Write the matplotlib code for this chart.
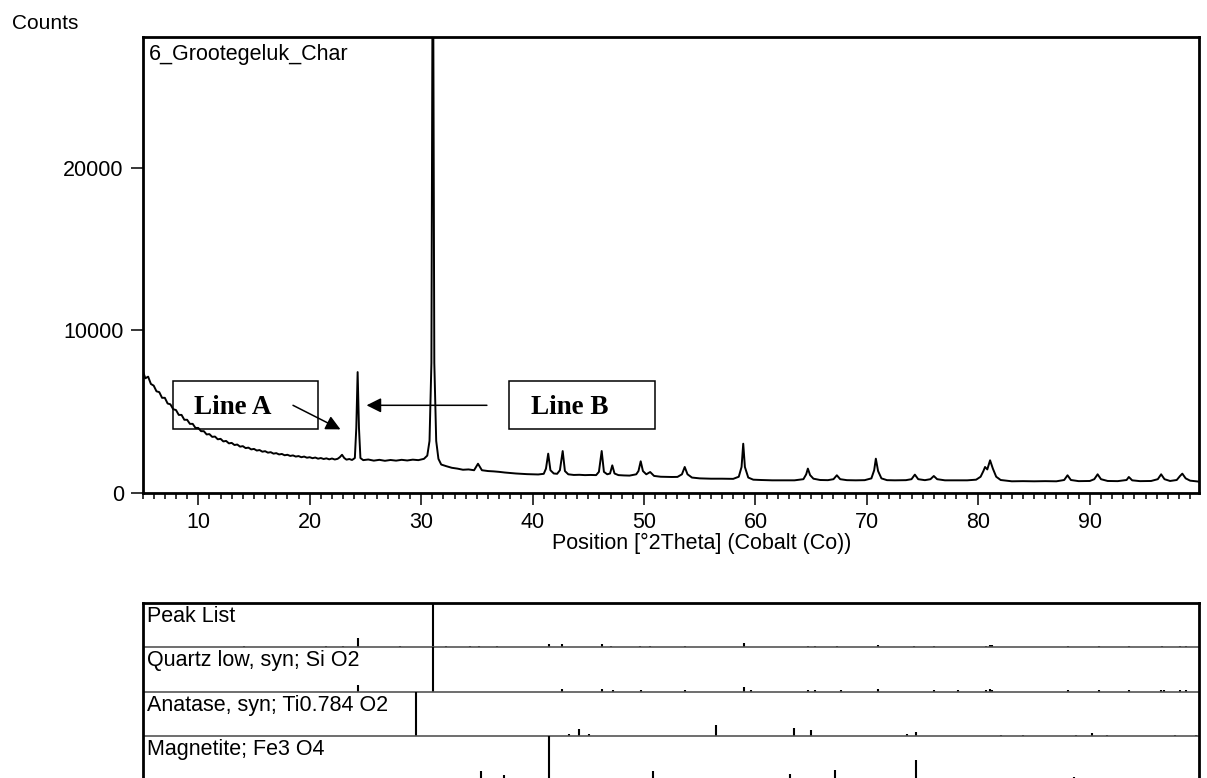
import matplotlib.pyplot as plt
from matplotlib.patches import Rectangle
from matplotlib.ticker import MultipleLocator

plt.rcParams['font.family'] = ['Liberation Sans', 'DejaVu Sans']

# measured scan, position [deg 2theta] vs counts
two_theta = [5.00, 5.25, 5.50, 5.75, 6.00, 6.25, 6.50, 6.75, 7.00, 7.25, 7.50, 7.75, 8.00,
             8.25, 8.50, 8.75, 9.00, 9.25, 9.50, 9.75, 10.00, 10.25, 10.50, 10.75, 11.00,
             11.25, 11.50, 11.75, 12.00, 12.25, 12.50, 12.75, 13.00, 13.25, 13.50, 13.75,
             14.00, 14.25, 14.50, 14.75, 15.00, 15.25, 15.50, 15.75, 16.00, 16.25, 16.50,
             16.75, 17.00, 17.25, 17.50, 17.75, 18.00, 18.25, 18.50, 18.75, 19.00, 19.25,
             19.50, 19.75, 20.00, 20.25, 20.50, 20.75, 21.00, 21.25, 21.50, 21.75, 22.00,
             22.25, 22.50, 22.70, 22.90, 23.10, 23.30, 23.55, 23.80, 24.05, 24.18, 24.30,
             24.42, 24.55, 24.80, 25.25, 25.75, 26.25, 26.75, 27.25, 27.75, 28.25, 28.75,
             29.25, 29.75, 30.25, 30.55, 30.75, 30.92, 31.05, 31.18, 31.35, 31.55, 31.80,
             32.25, 32.75, 33.25, 33.75, 34.25, 34.75, 35.10, 35.45, 36.00, 36.50, 37.00,
             37.50, 38.00, 38.50, 39.00, 39.50, 40.00, 40.50, 41.00, 41.20, 41.40, 41.60,
             41.90, 42.20, 42.45, 42.70, 42.90, 43.20, 43.70, 44.20, 44.70, 45.20, 45.70,
             45.95, 46.20, 46.40, 46.70, 46.95, 47.15, 47.35, 47.70, 48.20, 48.70, 49.30,
             49.50, 49.70, 49.90, 50.20, 50.55, 50.90, 51.50, 52.00, 52.50, 53.00, 53.40,
             53.65, 53.90, 54.30, 55.00, 56.00, 57.00, 58.00, 58.50, 58.75, 58.90, 59.05,
             59.35, 59.80, 60.50, 61.50, 62.50, 63.50, 64.30, 64.55, 64.70, 64.90, 65.20,
             65.80, 66.50, 67.00, 67.30, 67.60, 68.20, 69.00, 69.80, 70.40, 70.65, 70.80,
             71.00, 71.30, 71.80, 72.50, 73.50, 74.00, 74.30, 74.60, 75.20, 75.70, 76.00,
             76.30, 77.00, 78.00, 79.00, 79.80, 80.20, 80.45, 80.60, 80.80, 81.05, 81.30,
             81.60, 82.00, 83.00, 84.00, 85.00, 86.00, 87.00, 87.70, 88.00, 88.30, 89.00,
             90.00, 90.40, 90.70, 91.00, 91.60, 92.50, 93.30, 93.50, 93.80, 94.50, 95.50,
             96.10, 96.40, 96.70, 97.20, 97.80, 98.10, 98.30, 98.60, 99.00, 99.50, 99.80]
counts = [7550, 7050, 7150, 6700, 6600, 6250, 6200, 5850, 5850, 5500, 5450, 5150, 5100,
          4800, 4800, 4500, 4500, 4250, 4250, 4000, 4000, 3800, 3800, 3600, 3620, 3450,
          3470, 3300, 3330, 3170, 3200, 3050, 3080, 2950, 2980, 2850, 2880, 2760, 2790,
          2680, 2710, 2610, 2640, 2540, 2570, 2480, 2510, 2420, 2450, 2370, 2400, 2320,
          2350, 2280, 2310, 2240, 2270, 2200, 2240, 2170, 2200, 2140, 2180, 2110, 2150,
          2090, 2130, 2070, 2120, 2060, 2100, 2200, 2350, 2150, 2050, 2090, 2030, 2150,
          4000, 7430, 4000, 2150, 2020, 2060, 1990, 2040, 1980, 2030, 1990, 2040, 2000,
          2050, 2020, 2100, 2300, 3200, 8000, 38000, 8000, 3200, 2100, 1750, 1650, 1550,
          1500, 1430, 1450, 1400, 1800, 1400, 1350, 1330, 1300, 1260, 1230, 1200, 1180,
          1160, 1150, 1140, 1180, 1500, 2420, 1400, 1200, 1180, 1400, 2580, 1350, 1150,
          1110, 1120, 1100, 1110, 1100, 1300, 2580, 1300, 1150, 1200, 1700, 1200, 1100,
          1080, 1070, 1150, 1350, 1950, 1350, 1150, 1290, 1050, 1000, 990, 985, 990, 1150,
          1600, 1150, 950, 900, 880, 880, 870, 1000, 1600, 3030, 1600, 950, 820, 800, 780,
          780, 780, 850, 1150, 1500, 1100, 880, 800, 790, 850, 1090, 850, 790, 780, 790,
          900, 1400, 2110, 1350, 900, 790, 780, 790, 850, 1130, 850, 790, 850, 1045, 850,
          780, 780, 780, 820, 1000, 1350, 1600, 1450, 2010, 1500, 1000, 800, 720, 730, 720,
          730, 720, 800, 1090, 800, 730, 740, 850, 1150, 850, 740, 730, 800, 985, 780, 730,
          740, 850, 1150, 850, 740, 800, 1050, 1190, 900, 760, 720, 700]

# reference patterns: stick position [deg 2theta] and relative intensity (%)
peak_list_pos = [14.1, 21.5, 23.0, 24.34, 28.1, 31.1, 32.2, 34.4, 35.2, 36.8, 41.45, 42.6,
                 46.2, 47.05, 49.6, 50.5, 53.7, 59.0, 64.7, 65.3, 67.35, 70.95, 74.2, 76.0,
                 80.7, 81.0, 81.25, 88.0, 90.8, 93.5, 96.5, 98.1, 98.6]
peak_list_int = [3, 3, 3, 20, 3, 100, 3, 3, 3, 3, 7, 7, 7, 3, 3, 3, 3, 9, 3, 3, 3, 6, 3,
                 3, 3, 6, 4, 3, 3, 3, 3, 3, 3]
quartz_pos = [24.34, 31.1, 42.6, 46.2, 47.2, 49.7, 53.7, 59.0, 59.6, 64.7, 65.3, 67.65,
              70.95, 76.0, 78.2, 80.7, 81.0, 81.25, 88.0, 90.8, 93.5, 96.4, 96.7, 98.1, 98.6]
quartz_int = [15, 100, 6, 6, 3, 3, 3, 11, 3, 3, 3, 3, 5, 3, 3, 4, 6, 3, 3, 3, 3, 3, 3, 3, 3]
anatase_pos = [29.5, 43.25, 44.2, 45.1, 56.5, 63.5, 65.0, 73.6, 74.4, 82.0, 84.0, 88.8,
               90.2, 91.5, 97.6, 99.5]
anatase_int = [100, 4, 16, 4, 26, 18, 15, 4, 10, 3, 3, 3, 7.5, 3, 3, 3]
magnetite_pos = [35.4, 37.4, 41.45, 50.8, 63.1, 67.1, 74.4, 88.6]
magnetite_int = [22, 13, 100, 22, 15, 24, 46, 9]

phases = [
    ("Peak List", peak_list_pos, peak_list_int),
    ("Quartz low, syn; Si O2", quartz_pos, quartz_int),
    ("Anatase, syn; Ti0.784 O2", anatase_pos, anatase_int),
    ("Magnetite; Fe3 O4", magnetite_pos, magnetite_int),
]

fig = plt.figure(figsize=(12.07, 7.78), dpi=100)

# --- scan ---
ax = fig.add_axes([0.1181, 0.3663, 0.8753, 0.5857])
ax.plot(two_theta, counts, color="black", lw=1.4)
ax.set_xlim(5, 99.8)
ax.set_ylim(0, 28000)
ax.set_yticks([0, 10000, 20000])
ax.xaxis.set_major_locator(MultipleLocator(10))
ax.xaxis.set_minor_locator(MultipleLocator(1))
ax.tick_params(axis="both", which="major", direction="out", length=8.5, width=1.1,
               labelsize=15.5, pad=5)
ax.tick_params(axis="x", which="minor", direction="out", length=4.3, width=1.1)
for sp in ax.spines.values():
    sp.set_linewidth(2)

ax.text(0.006, 0.985, "6_Grootegeluk_Char", transform=ax.transAxes, ha="left",
        va="top", fontsize=15.5)
fig.text(0.01, 0.963, "Counts", ha="left", va="baseline", fontsize=15)
fig.text(0.581, 0.301, "Position [°2Theta] (Cobalt (Co))", ha="center", va="center",
         fontsize=15.5)

# callout boxes and arrows
serif = dict(family=["Liberation Serif", "DejaVu Serif"], weight="bold", fontsize=19.5)
ax.add_patch(Rectangle((7.73, 3910), 13.02, 2960, fill=False, lw=1.1, ec="black"))
ax.add_patch(Rectangle((37.9, 3910), 13.06, 2960, fill=False, lw=1.1, ec="black"))
ax.text(9.6, 5250, "Line A", ha="left", va="center", **serif)
ax.text(39.9, 5250, "Line B", ha="left", va="center", **serif)
arrow = dict(arrowstyle="-|>", mutation_scale=22, lw=1.1, color="black",
             shrinkA=0, shrinkB=0)
ax.annotate("", xy=(22.76, 3910), xytext=(18.5, 5390), arrowprops=arrow)
ax.annotate("", xy=(25.1, 5390), xytext=(35.9, 5390), arrowprops=arrow)

# --- stick patterns ---
bx = fig.add_axes([0.1181, -0.0035, 0.8753, 0.2288])
bx.set_xlim(5, 99.8)
bx.set_ylim(0, 4)
bx.set_xticks([])
bx.set_yticks([])
for name in ["top", "left", "right"]:
    bx.spines[name].set_linewidth(2)
bx.spines["bottom"].set_visible(False)

for k, (label, pos, inten) in enumerate(phases):
    base = 3 - k
    if k > 0:
        bx.axhline(base + 1, color="#555555", lw=1.2)
    bx.vlines(pos, base, [base + i / 100 for i in inten], color="black", lw=1.5)
    bx.text(0.004, base + 0.93, label, transform=bx.get_yaxis_transform(),
            ha="left", va="top", fontsize=15.5)

fig.savefig("out.png", dpi=100)
